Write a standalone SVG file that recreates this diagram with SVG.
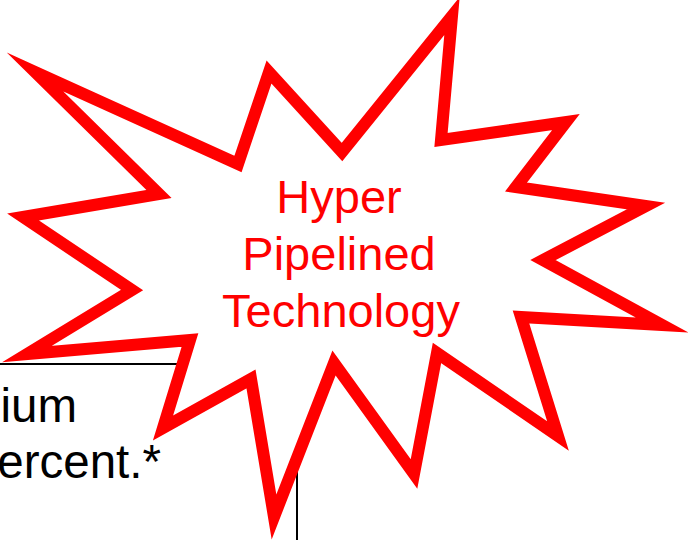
<svg xmlns="http://www.w3.org/2000/svg" width="688" height="540" viewBox="0 0 688 540">
<style>
.bg{fill:#ffffff}
.box{fill:#ffffff;stroke:#000000;stroke-width:2}
.boxtext{font-family:"Liberation Sans",Arial,sans-serif;font-size:47.5px;fill:#000000;text-anchor:end}
.star{fill:#ffffff;stroke:#ff0000;stroke-width:12;stroke-linejoin:miter;stroke-miterlimit:30}
.startext{font-family:"Liberation Sans",Arial,sans-serif;font-size:47px;fill:#ff0000;text-anchor:middle}
</style>
<rect class="bg" x="0" y="0" width="688" height="540"/>
<g id="box">
<rect class="box" x="-20" y="364" width="317" height="200"/>
<text class="boxtext" x="77" y="422">ium</text>
<text class="boxtext" x="161" y="478">ercent.*</text>
</g>
<g id="connectors"></g>
<g id="burst">
<polygon class="star" points="35,72 238,164 269,72 342,152 452,16 441,140 566,122 516,187 646,206 543,260 662,325 521,317 558,436 437,353 414,474 334,363 274,517 251,379 163,428 190,340 27,354 132,290 23,217 159,194"/>
<text class="startext" x="339" y="213">Hyper</text>
<text class="startext" x="339" y="270">Pipelined</text>
<text class="startext" x="341" y="327">Technology</text>
</g>
</svg>
